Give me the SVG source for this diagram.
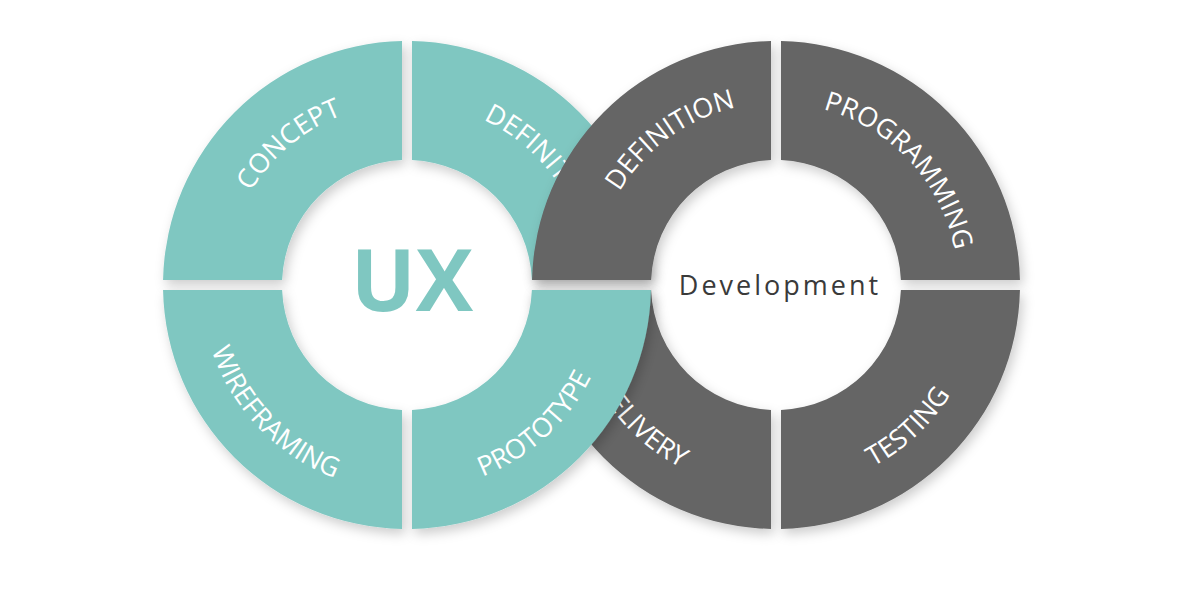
<svg xmlns="http://www.w3.org/2000/svg" width="1200" height="600" viewBox="0 0 1200 600">
  <defs>
    <filter id="sh" x="-20%" y="-20%" width="140%" height="140%">
      <feDropShadow dx="3" dy="5" stdDeviation="6" flood-color="#000" flood-opacity="0.2"/>
    </filter>
    <path id="p-concept" d="M 225.7 269.1 A 182 182 0 0 1 422.9 103.7"/>
    <path id="p-def-ux" d="M 416.5 103.3 A 182 182 0 0 1 588.7 294.5"/>
    <path id="p-wire" d="M 201.0 281.4 A 206 206 0 0 0 403.4 491.0"/>
    <path id="p-proto" d="M 398.0 490.8 A 206 206 0 0 0 612.8 294.0"/>
    <path id="p-def-dev" d="M 596.2 256.5 A 182 182 0 0 1 804.5 105.2"/>
    <path id="p-prog" d="M 782.4 103.1 A 182 182 0 0 1 957.9 291.4"/>
    <path id="p-deliv" d="M 570.0 288.6 A 206 206 0 0 0 779.6 491.0"/>
    <path id="p-test" d="M 768.8 490.9 A 206 206 0 0 0 981.9 292.2"/>
  </defs>
  <style>
    .teal { fill: #7fc7c1; filter: url(#sh); }
    .gray { fill: #656565; filter: url(#sh); }
    .lbl { font-family: "Open Sans", "Liberation Sans", sans-serif; font-size: 27px; fill: #ffffff; }
  </style>
  <rect width="1200" height="600" fill="#ffffff"/>

  <g id="ux-concept">
    <path class="teal" d="M 402 41.05 A 244 244 0 0 0 163.05 280 L 282.1 280 A 125 125 0 0 1 402 160.1 Z"/>
    <text class="lbl"><textPath href="#p-concept" startOffset="50%" text-anchor="middle">CONCEPT</textPath></text>
  </g>
  <g id="ux-definition">
    <path class="teal" d="M 412 41.05 A 244 244 0 0 1 650.95 280 L 531.9 280 A 125 125 0 0 0 412 160.1 Z"/>
    <text class="lbl"><textPath href="#p-def-ux" startOffset="50%" text-anchor="middle">DEFINITION</textPath></text>
  </g>
  <g id="ux-wireframing">
    <path class="teal" d="M 402 528.95 A 244 244 0 0 1 163.05 290 L 282.1 290 A 125 125 0 0 0 402 409.9 Z"/>
    <text class="lbl"><textPath href="#p-wire" startOffset="50%" text-anchor="middle">WIREFRAMING</textPath></text>
  </g>

  <g id="dev-definition">
    <path class="gray" d="M 771 41.05 A 244 244 0 0 0 532.05 280 L 651.1 280 A 125 125 0 0 1 771 160.1 Z"/>
    <text class="lbl"><textPath href="#p-def-dev" startOffset="50%" text-anchor="middle">DEFINITION</textPath></text>
  </g>
  <g id="dev-programming">
    <path class="gray" d="M 781 41.05 A 244 244 0 0 1 1019.95 280 L 900.9 280 A 125 125 0 0 0 781 160.1 Z"/>
    <text class="lbl"><textPath href="#p-prog" startOffset="50%" text-anchor="middle">PROGRAMMING</textPath></text>
  </g>
  <g id="dev-delivery">
    <path class="gray" d="M 771 528.95 A 244 244 0 0 1 532.05 290 L 651.1 290 A 125 125 0 0 0 771 409.9 Z"/>
    <text class="lbl"><textPath href="#p-deliv" startOffset="50%" text-anchor="middle">DELIVERY</textPath></text>
  </g>
  <g id="dev-testing">
    <path class="gray" d="M 781 528.95 A 244 244 0 0 0 1019.95 290 L 900.9 290 A 125 125 0 0 1 781 409.9 Z"/>
    <text class="lbl"><textPath href="#p-test" startOffset="50%" text-anchor="middle">TESTING</textPath></text>
  </g>

  <g id="ux-prototype">
    <path class="teal" d="M 412 528.95 A 244 244 0 0 0 650.95 290 L 531.9 290 A 125 125 0 0 1 412 409.9 Z"/>
    <text class="lbl"><textPath href="#p-proto" startOffset="50%" text-anchor="middle">PROTOTYPE</textPath></text>
  </g>

  <g id="ux-hub">
    <text x="412" y="311" text-anchor="middle" font-family="'Open Sans', 'Liberation Sans', sans-serif" font-size="86" font-weight="700" fill="#7fc7c1">UX</text>
  </g>
  <g id="dev-hub">
    <text x="780" y="295" text-anchor="middle" font-family="'Open Sans', 'Liberation Sans', sans-serif" font-size="27" letter-spacing="3" fill="#3a3a3a">Development</text>
  </g>
  <g id="connectors"></g>
</svg>
